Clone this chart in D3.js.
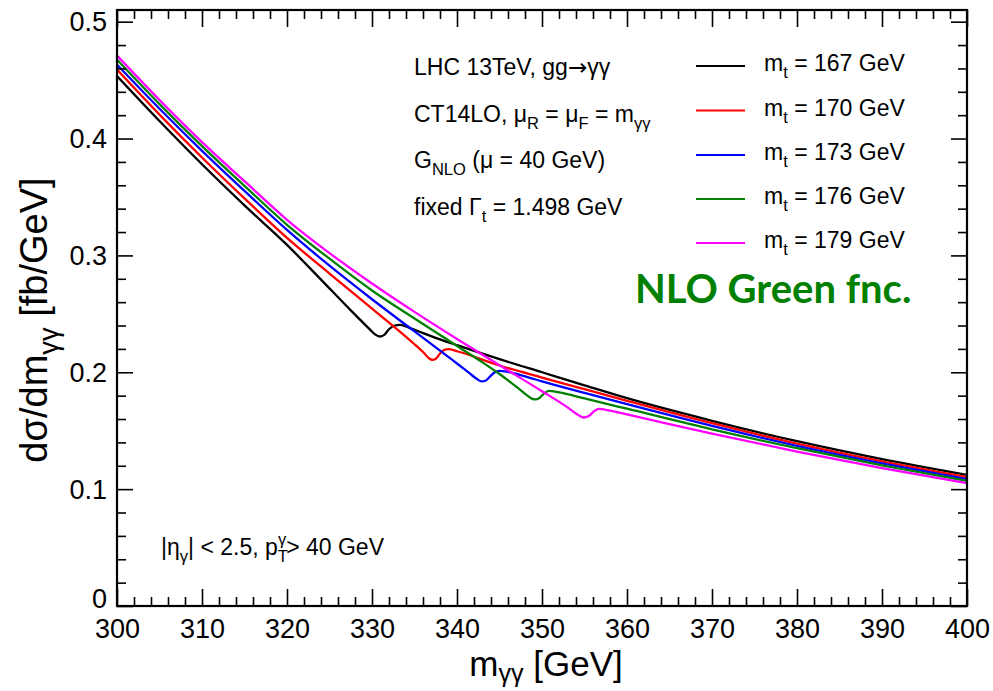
<!DOCTYPE html>
<html>
<head>
<meta charset="utf-8">
<script src="https://cdn.jsdelivr.net/npm/d3@7"></script>
<style>
  html, body { margin: 0; padding: 0; background: #fff; }
  svg { display: block; }
</style>
</head>
<body>
<svg id="chart" width="993" height="691"></svg>
<script>
// ---------------- data ----------------
const xTicks = [300, 310, 320, 330, 340, 350, 360, 370, 380, 390, 400];
const yTicks = [0, 0.1, 0.2, 0.3, 0.4, 0.5];

const mt167X = [300,305,310,315,320,324,327.5,329.8,330.4,330.9,331.4,332.0,332.6,333.3,334.5,336,338,340,345,350,355,360,370,380,390,400];
const mt167Y = [0.4535,0.4150,0.3780,0.3428,0.3090,0.2793,0.2530,0.2363,0.2322,0.2306,0.2318,0.2368,0.2398,0.2405,0.2378,0.2335,0.2282,0.2232,0.2112,0.2000,0.1888,0.1778,0.1585,0.1410,0.1257,0.1122];

const mt170X = [300,305,310,315,320,325,330,333,335,336.2,336.7,337.1,337.5,338.0,338.5,339.0,340,345,350,355,360,370,380,390,400];
const mt170Y = [0.4590,0.4205,0.3838,0.3488,0.3150,0.2845,0.2545,0.2365,0.2240,0.2158,0.2120,0.2106,0.2115,0.2160,0.2192,0.2198,0.2180,0.2058,0.1955,0.1855,0.1756,0.1564,0.1389,0.1237,0.1102];

const mt173X = [300,305,310,315,320,325,330,335,338,340,341.5,342.3,342.9,343.4,343.9,344.4,345.0,346,348,350,355,360,370,380,390,400];
const mt173Y = [0.4632,0.4255,0.3895,0.3552,0.3218,0.2912,0.2625,0.2350,0.2185,0.2075,0.1990,0.1945,0.1922,0.1930,0.1965,0.1998,0.2012,0.2003,0.1965,0.1922,0.1823,0.1727,0.1541,0.1371,0.1221,0.1085];

const mt176X = [300,305,310,315,320,325,330,335,340,343,345,347,348.2,348.8,349.2,349.7,350.2,350.8,352,355,360,370,380,390,400];
const mt176Y = [0.4675,0.4295,0.3935,0.3595,0.3262,0.2972,0.2700,0.2460,0.2225,0.2085,0.1985,0.1875,0.1805,0.1775,0.1768,0.1780,0.1815,0.1840,0.1828,0.1776,0.1688,0.1511,0.1350,0.1203,0.1070];

const mt179X = [300,305,310,315,320,325,330,335,340,345,350,353,354.3,354.9,355.5,356.1,356.7,358,360,370,380,390,400];
const mt179Y = [0.4710,0.4330,0.3970,0.3635,0.3305,0.3020,0.2760,0.2517,0.2285,0.2060,0.1838,0.1700,0.1632,0.1613,0.1625,0.1665,0.1686,0.1672,0.1640,0.1474,0.1322,0.1180,0.1051];

const seriesNames = ["167", "170", "173", "176", "179"];
const seriesColors = ["#000000", "#ff0000", "#0000ff", "#008000", "#ff00ff"];
const seriesX = [mt167X, mt170X, mt173X, mt176X, mt179X];
const seriesY = [mt167Y, mt170Y, mt173Y, mt176Y, mt179Y];

// ---------------- layout ----------------
const svg = d3.select("#chart");
const L = 117, R = 967, T = 10, B = 606;
const x = d3.scaleLinear().domain([300, 400]).range([L, R]);
const y = d3.scaleLinear().domain([0, 0.51]).range([B, T]);
const FONT = '"Liberation Sans", Arial, Helvetica, sans-serif';

// rich text helper: parts = [{t, sub, sup, dx, font}]
function rich(g, px, py, parts, size, anchor, subShift) {
  const ss = subShift || 0.32;
  const t = g.append("text").attr("x", px).attr("y", py)
    .style("font-family", FONT).style("font-size", size + "px").attr("fill", "#000")
    .attr("text-anchor", anchor || "start");
  let shift = 0;
  parts.forEach(p => {
    const ts = t.append("tspan").text(p.t);
    let target = 0, fs = size;
    if (p.sub) { target = size * ss; fs = size * 0.72; }
    if (p.sup) { target = -size * 0.42; fs = size * 0.72; }
    ts.style("font-size", fs + "px").attr("dy", target - shift);
    if (p.dx) ts.attr("dx", p.dx);
    if (p.font) ts.style("font-family", p.font);
    shift = target;
  });
  return t;
}

// ---------------- curves ----------------
const line = d3.line().x(d => x(d[0])).y(d => y(d[1])).curve(d3.curveMonotoneX);
svg.append("clipPath").attr("id", "plotclip")
  .append("rect").attr("x", L).attr("y", T).attr("width", R - L).attr("height", B - T);
const curves = svg.append("g").attr("clip-path", "url(#plotclip)");
seriesNames.forEach((n, i) => {
  const pts = seriesX[i].map((v, k) => [v, seriesY[i][k]]);
  curves.append("path").datum(pts).attr("d", line)
    .attr("fill", "none").attr("stroke", seriesColors[i]).attr("stroke-width", 2.3)
    .attr("stroke-linejoin", "round");
});

// ---------------- axes ----------------
const xMinor = d3.range(300, 401, 2).filter(v => v % 10 !== 0);
const yMinor = d3.range(0, 0.511, 0.02).filter(v => Math.abs(v * 10 - Math.round(v * 10)) > 1e-6);

function styleAxis(g) {
  g.select(".domain").remove();
  g.selectAll(".tick line").attr("stroke", "#000").attr("stroke-width", 1.6);
}
function styleLabels(g, dy) {
  g.selectAll("text").style("font-size", "27px").style("font-family", FONT)
    .attr("fill", "#000").attr("dy", dy);
}
// bottom
svg.append("g").attr("transform", `translate(0,${B})`)
  .call(d3.axisBottom(x).tickValues(xTicks).tickSize(-17).tickPadding(32).tickFormat(d3.format("d")))
  .call(styleAxis).call(g => styleLabels(g, "0"));
svg.append("g").attr("transform", `translate(0,${B})`)
  .call(d3.axisBottom(x).tickValues(xMinor).tickSize(-9).tickFormat(""))
  .call(styleAxis);
// top
svg.append("g").attr("transform", `translate(0,${T})`)
  .call(d3.axisTop(x).tickValues(xTicks).tickSize(-17).tickFormat(""))
  .call(styleAxis);
svg.append("g").attr("transform", `translate(0,${T})`)
  .call(d3.axisTop(x).tickValues(xMinor).tickSize(-9).tickFormat(""))
  .call(styleAxis);
// left
svg.append("g").attr("transform", `translate(${L},0)`)
  .call(d3.axisLeft(y).tickValues(yTicks).tickSize(-16).tickPadding(10)
    .tickFormat(v => v === 0 ? "0" : d3.format(".1f")(v)))
  .call(styleAxis).call(g => styleLabels(g, "0.34em"))
  .call(g => g.selectAll(".tick").filter(d => d === 0).select("text").attr("dy", "0.04em"));
svg.append("g").attr("transform", `translate(${L},0)`)
  .call(d3.axisLeft(y).tickValues(yMinor).tickSize(-9).tickFormat(""))
  .call(styleAxis);
// right
svg.append("g").attr("transform", `translate(${R},0)`)
  .call(d3.axisRight(y).tickValues(yTicks).tickSize(-16).tickFormat(""))
  .call(styleAxis);
svg.append("g").attr("transform", `translate(${R},0)`)
  .call(d3.axisRight(y).tickValues(yMinor).tickSize(-9).tickFormat(""))
  .call(styleAxis);

// frame
svg.append("rect").attr("x", L).attr("y", T).attr("width", R - L).attr("height", B - T)
  .attr("fill", "none").attr("stroke", "#000").attr("stroke-width", 2.2);

// ---------------- axis titles ----------------
rich(svg, 546, 676, [{t: "m"}, {t: "γγ", sub: true}, {t: " [GeV]"}], 35, "middle", 0.17);
const yt = svg.append("g").attr("transform", "translate(47,320) rotate(-90)");
rich(yt, 0, 0, [{t: "dσ/dm"}, {t: "γγ", sub: true}, {t: " [fb/GeV]"}], 38, "middle", 0.28);

// ---------------- annotations ----------------
const ann = svg.append("g");
rich(ann, 414, 75, [{t: "LHC 13TeV, gg"}, {t: "→", font: '"DejaVu Sans", sans-serif'}, {t: "γγ"}], 23);
rich(ann, 414, 122, [{t: "CT14LO, μ"}, {t: "R", sub: true}, {t: " = μ"}, {t: "F", sub: true}, {t: " = m"}, {t: "γγ", sub: true}], 23);
rich(ann, 414, 168, [{t: "G"}, {t: "NLO", sub: true}, {t: " (μ = 40 GeV)"}], 23);
rich(ann, 414, 215, [{t: "fixed Γ"}, {t: "t", sub: true}, {t: " = 1.498 GeV"}], 23);

rich(ann, 161, 555, [{t: "|η"}, {t: "γ", sub: true}, {t: "| < 2.5, p"}, {t: "T", sub: true}, {t: "γ", sup: true, dx: -10}, {t: "> 40 GeV"}], 23);

// legend
const legY = [66, 110.5, 155, 199, 243];
const leg = svg.append("g");
seriesNames.forEach((n, i) => {
  leg.append("line").attr("x1", 696).attr("x2", 745).attr("y1", legY[i]).attr("y2", legY[i])
    .attr("stroke", seriesColors[i]).attr("stroke-width", 2.2);
  rich(leg, 764, legY[i] + 5, [{t: "m"}, {t: "t", sub: true}, {t: " = " + n + " GeV"}], 23);
});

svg.append("text").attr("x", 635).attr("y", 303)
  .style("font-family", 'Lato, "Open Sans", "Noto Sans", sans-serif').style("font-weight", "bold")
  .style("font-size", "40px").attr("fill", "#008000")
  .text("NLO Green fnc.");
</script>
</body>
</html>
